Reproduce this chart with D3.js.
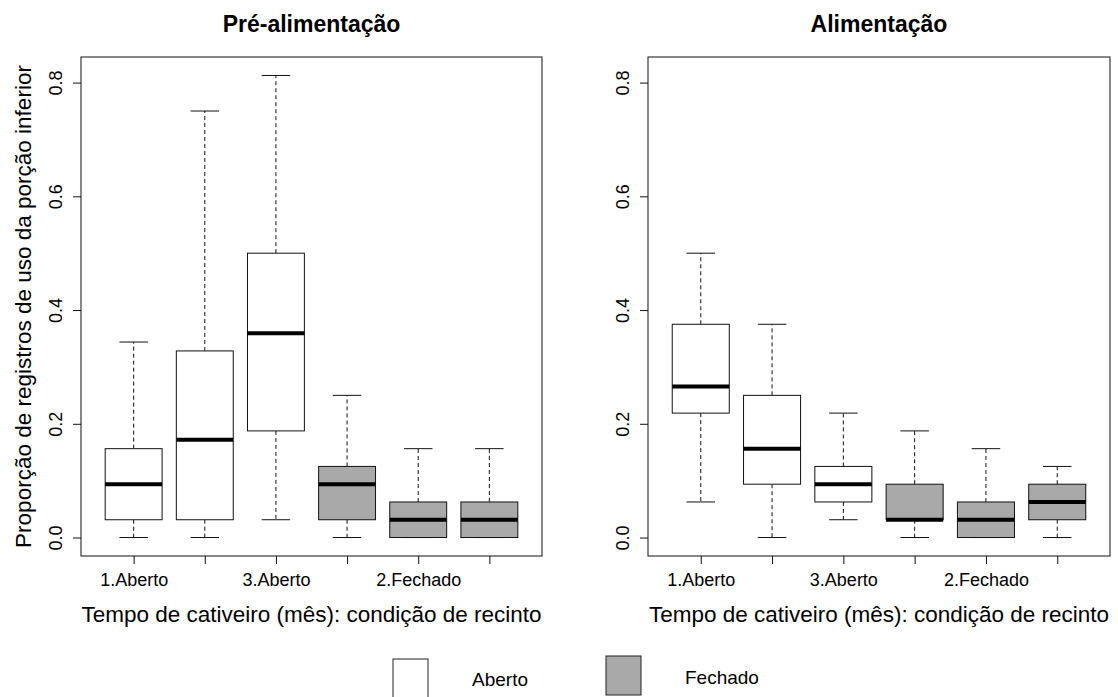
<!DOCTYPE html>
<html>
<head>
<meta charset="utf-8">
<script src="https://cdn.jsdelivr.net/npm/d3@7"></script>
<style>
  html, body { margin: 0; padding: 0; background: #fff; }
  svg { display: block; font-family: "Liberation Sans", Arial, sans-serif; }
</style>
</head>
<body>
<svg id="chart" width="1118" height="697"></svg>
<script>
// Groups: months in captivity x enclosure condition
const categories = ["1.Aberto", "2.Aberto", "3.Aberto", "1.Fechado", "2.Fechado", "3.Fechado"];
const condition  = ["Aberto", "Aberto", "Aberto", "Fechado", "Fechado", "Fechado"];

// Pré-alimentação: whisker ends, quartiles and medians
const preLow  = [0.0,     0.0,      0.03125,  0.0,     0.0,     0.0];
const preQ1   = [0.03125, 0.03125,  0.1875,   0.03125, 0.0,     0.0];
const preMed  = [0.09375, 0.171875, 0.359375, 0.09375, 0.03125, 0.03125];
const preQ3   = [0.15625, 0.328125, 0.5,      0.125,   0.0625,  0.0625];
const preHigh = [0.34375, 0.75,     0.8125,   0.25,    0.15625, 0.15625];

// Alimentação
const aliLow  = [0.0625,  0.0,     0.03125, 0.0,     0.0,     0.0];
const aliQ1   = [0.21875, 0.09375, 0.0625,  0.03125, 0.0,     0.03125];
const aliMed  = [0.265625,0.15625, 0.09375, 0.03125, 0.03125, 0.0625];
const aliQ3   = [0.375,   0.25,    0.125,   0.09375, 0.0625,  0.09375];
const aliHigh = [0.5,     0.375,   0.21875, 0.1875,  0.15625, 0.125];

const yTicks = [0, 0.2, 0.4, 0.6, 0.8];
const yMax = 0.8125;
const legendItems = ["Aberto", "Fechado"];
const fillFor = { "Aberto": "#ffffff", "Fechado": "#a9a9a9" };

const svg = d3.select("#chart");

function panel(opts) {
  const { left, right, top, bottom, title, low, q1, med, q3, high, ylab } = opts;
  const n = categories.length;
  const x = d3.scaleLinear().domain([0.5 - 0.24, n + 0.5 + 0.24]).range([left, right]);
  const pad = 0.04 * yMax;
  const y = d3.scaleLinear().domain([-pad, yMax + pad]).range([bottom, top]);
  const g = svg.append("g");

  const rows = categories.map((c, i) => ({
    c, i: i + 1, cond: condition[i], low: low[i], q1: q1[i], med: med[i], q3: q3[i], high: high[i]
  }));
  const bw = 0.4;   // half box width in x units
  const sw = 0.2;   // half staple width

  const b = g.selectAll("g.box").data(rows).join("g").attr("class", "box");
  // whiskers (dashed)
  b.append("line")
    .attr("x1", d => x(d.i)).attr("x2", d => x(d.i))
    .attr("y1", d => y(d.q3)).attr("y2", d => y(d.high))
    .attr("stroke", "#111").attr("stroke-width", 1).attr("stroke-dasharray", "4,3");
  b.append("line")
    .attr("x1", d => x(d.i)).attr("x2", d => x(d.i))
    .attr("y1", d => y(d.q1)).attr("y2", d => y(d.low))
    .attr("stroke", "#111").attr("stroke-width", 1).attr("stroke-dasharray", "4,3");
  // staples
  b.append("line")
    .attr("x1", d => x(d.i - sw)).attr("x2", d => x(d.i + sw))
    .attr("y1", d => y(d.high)).attr("y2", d => y(d.high))
    .attr("stroke", "#111").attr("stroke-width", 1);
  b.append("line")
    .attr("x1", d => x(d.i - sw)).attr("x2", d => x(d.i + sw))
    .attr("y1", d => y(d.low)).attr("y2", d => y(d.low))
    .attr("stroke", "#111").attr("stroke-width", 1);
  // box
  b.append("rect")
    .attr("x", d => x(d.i - bw)).attr("width", d => x(d.i + bw) - x(d.i - bw))
    .attr("y", d => y(d.q3)).attr("height", d => y(d.q1) - y(d.q3))
    .attr("fill", d => fillFor[d.cond]).attr("stroke", "#111").attr("stroke-width", 1);
  // median
  b.append("line")
    .attr("x1", d => x(d.i - bw)).attr("x2", d => x(d.i + bw))
    .attr("y1", d => y(d.med)).attr("y2", d => y(d.med))
    .attr("stroke", "#000").attr("stroke-width", 4);

  // frame
  g.append("rect").attr("x", left).attr("y", top)
    .attr("width", right - left).attr("height", bottom - top)
    .attr("fill", "none").attr("stroke", "#111").attr("stroke-width", 1);

  // x axis ticks and labels (every other label, as space allows)
  const xa = g.append("g").attr("transform", `translate(0,${bottom})`)
    .call(d3.axisBottom(x).tickValues(d3.range(1, n + 1)).tickSize(8).tickSizeOuter(0)
      .tickFormat(d => (d % 2 === 1 ? categories[d - 1] : "")));
  xa.select(".domain").remove();
  xa.selectAll(".tick line").attr("stroke", "#111");
  xa.selectAll(".tick text").attr("dy", null).attr("y", 30)
    .attr("font-size", "18px").attr("fill", "#000")
    .attr("font-family", "Liberation Sans, Arial, sans-serif");

  // y axis ticks and rotated labels
  const ya = g.append("g").attr("transform", `translate(${left},0)`)
    .call(d3.axisLeft(y).tickValues(yTicks).tickSize(8).tickSizeOuter(0).tickFormat(d3.format(".1f")));
  ya.select(".domain").remove();
  ya.selectAll(".tick line").attr("stroke", "#111");
  ya.selectAll(".tick text")
    .attr("x", null).attr("dy", null)
    .attr("transform", "translate(-19.5,0) rotate(-90)")
    .attr("text-anchor", "middle").attr("font-size", "18px").attr("fill", "#000")
    .attr("font-family", "Liberation Sans, Arial, sans-serif");

  const cx = (left + right) / 2;
  g.append("text").attr("x", cx).attr("y", 32).attr("text-anchor", "middle")
    .attr("font-size", "23px").attr("font-weight", "bold").text(title);
  g.append("text").attr("x", cx).attr("y", 622).attr("text-anchor", "middle")
    .attr("font-size", "22.5px").text("Tempo de cativeiro (mês): condição de recinto");
  if (ylab) {
    g.append("text")
      .attr("transform", `translate(31,${(top + bottom) / 2}) rotate(-90)`)
      .attr("text-anchor", "middle").attr("font-size", "22.5px").text(ylab);
  }
}

panel({ left: 81, right: 542, top: 57, bottom: 556, title: "Pré-alimentação",
  low: preLow, q1: preQ1, med: preMed, q3: preQ3, high: preHigh,
  ylab: "Proporção de registros de uso da porção inferior" });
panel({ left: 648, right: 1110, top: 57, bottom: 556, title: "Alimentação",
  low: aliLow, q1: aliQ1, med: aliMed, q3: aliQ3, high: aliHigh });

// legend
const legendPos = [
  { rx: 393, ry: 659, tx: 472, ty: 686 },
  { rx: 606, ry: 656, tx: 685, ty: 684 }
];
const lg = svg.append("g");
legendItems.forEach((name, i) => {
  const p = legendPos[i];
  lg.append("rect").attr("x", p.rx).attr("y", p.ry).attr("width", 35).attr("height", 39)
    .attr("fill", fillFor[name]).attr("stroke", "#222").attr("stroke-width", 1);
  lg.append("text").attr("x", p.tx).attr("y", p.ty).attr("font-size", "19px").text(name);
});
</script>
</body>
</html>
